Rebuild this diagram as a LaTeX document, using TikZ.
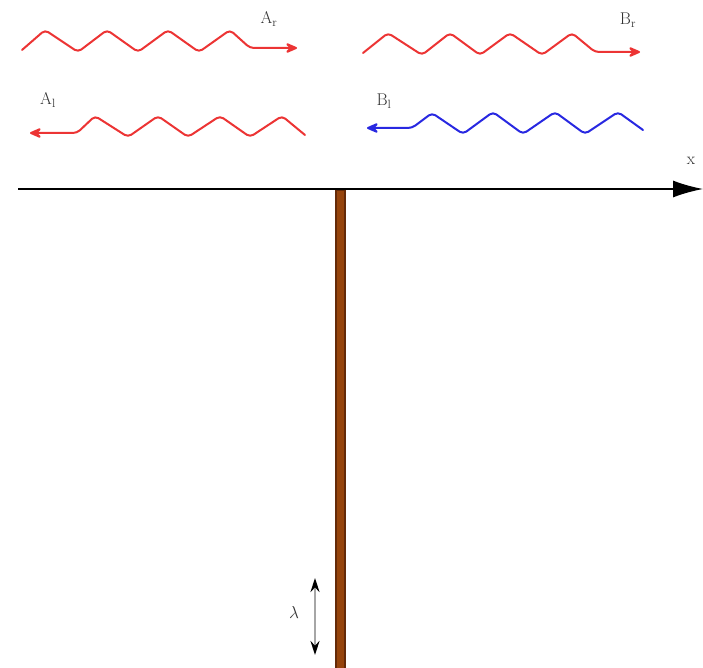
\documentclass[tikz,border=0pt]{standalone}
\usetikzlibrary{arrows.meta}
\definecolor{wred}{RGB}{236,52,52}
\definecolor{wblue}{RGB}{40,40,225}
\definecolor{rodfill}{RGB}{150,68,12}
\definecolor{rodedge}{RGB}{100,42,8}
\tikzset{
  wave/.style={line width=2pt, rounded corners=4pt, line cap=round, line join=round,
    -{Stealth[length=15pt,width=13pt,inset=6pt,round]}},
  lbl/.style={font=\fontsize{17}{19}\selectfont, inner sep=0pt, text=black!80},
}
\begin{document}
\begin{tikzpicture}[x=1pt,y=-1pt]
\useasboundingbox (0,0) rectangle (703,668);
% rod
\fill[rodfill, draw=rodedge, line width=1.2pt] (336,190) rectangle (345,670);
% axis
\coordinate (ax0) at (18,189);
\coordinate (ax1) at (703,189);
\draw[line width=1.5pt, -{Latex[length=30pt,width=17pt]}] (ax0) -- (ax1);
\node[lbl] (xl) at (691,161) {x};
% waves
\draw[wave, wred] (22,50) -- (45,30) -- (78,52) -- (107,30) -- (138,52) -- (168,30) -- (199,52) -- (230,30) -- (250,48) -- (297,48);
\node[lbl] (Ar) at (269,19) {A$_\mathrm{r}$};
\draw[wave, wred] (305,135) -- (282,116) -- (250,137) -- (220,116) -- (188,137) -- (158,116) -- (128,137) -- (95,116) -- (77,133) -- (30,133);
\node[lbl] (Al) at (48,100) {A$_\mathrm{l}$};
\draw[wave, wred] (363,53) -- (388,33) -- (422,55) -- (450,33) -- (480,55) -- (510,33) -- (542,55) -- (572,33) -- (595,52) -- (640,52);
\node[lbl] (Br) at (628,20) {B$_\mathrm{r}$};
\draw[wave, wblue] (643,130) -- (618,112) -- (585,134) -- (555,112) -- (523,134) -- (493,112) -- (463,134) -- (432,113) -- (412,128) -- (367,128);
\node[lbl] (Bl) at (384,101) {B$_\mathrm{l}$};
% lambda
\coordinate (la) at (315,578);
\coordinate (lb) at (315,655);
\draw[gray!70, line width=1.6pt, {Stealth[black,length=14pt,width=9pt]}-{Stealth[black,length=14pt,width=9pt]}] (la) -- (lb);
\node[lbl] (lam) at (294,612) {$\lambda$};
\end{tikzpicture}
\end{document}
